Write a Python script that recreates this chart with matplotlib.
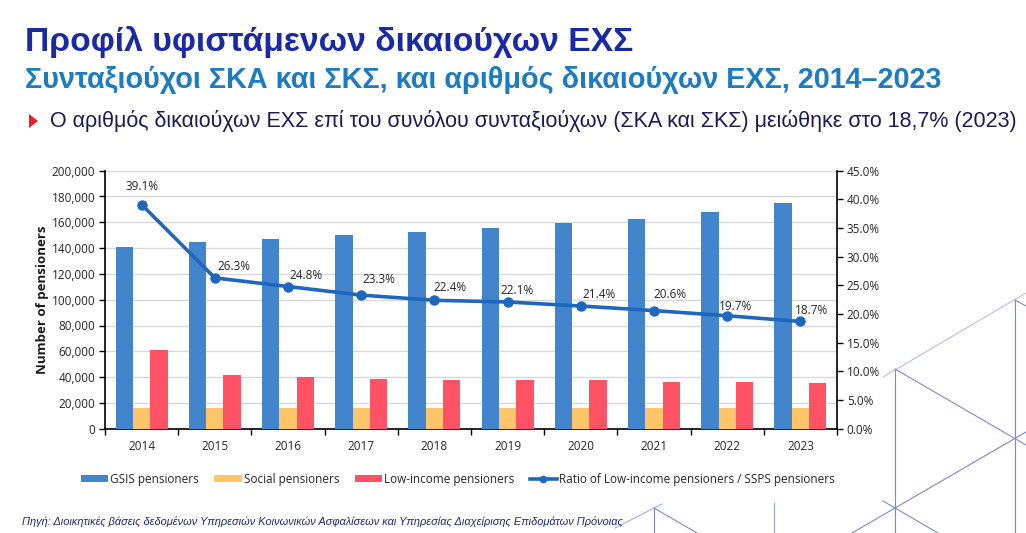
import matplotlib
matplotlib.use("Agg")
import matplotlib.pyplot as plt
from matplotlib.lines import Line2D
from matplotlib.patches import Patch, Polygon
from matplotlib.ticker import FuncFormatter, MultipleLocator, FixedLocator
import numpy as np

# ---------------- data ----------------
years = ["2014", "2015", "2016", "2017", "2018", "2019", "2020", "2021", "2022", "2023"]
gsis = [140700, 144600, 147200, 149800, 152100, 155700, 159600, 162700, 168200, 175200]
social = [15800, 15900, 16000, 16300, 16400, 16400, 16400, 16400, 16400, 16400]
low_income = [60900, 41700, 40200, 38600, 37600, 37600, 37600, 36500, 36000, 35300]
ratio = [39.1, 26.3, 24.8, 23.3, 22.4, 22.1, 21.4, 20.6, 19.7, 18.7]
ratio_labels = ["39.1%", "26.3%", "24.8%", "23.3%", "22.4%", "22.1%", "21.4%", "20.6%", "19.7%", "18.7%"]
series_names = ["GSIS pensioners", "Social pensioners", "Low-income pensioners",
                "Ratio of Low-income pensioners / SSPS pensioners"]

title = "Προφίλ υφιστάμενων δικαιούχων ΕΧΣ"
subtitle = "Συνταξιούχοι ΣΚΑ και ΣΚΣ, και αριθμός δικαιούχων ΕΧΣ, 2014–2023"
bullet = "Ο αριθμός δικαιούχων ΕΧΣ επί του συνόλου συνταξιούχων (ΣΚΑ και ΣΚΣ) μειώθηκε στο 18,7% (2023)"
source = "Πηγή: Διοικητικές βάσεις δεδομένων Υπηρεσιών Κοινωνικών Ασφαλίσεων και Υπηρεσίας Διαχείρισης Επιδομάτων Πρόνοιας"
ylabel = "Number of pensioners"

# ---------------- styling ----------------
W, H = 1026, 533
C_GSIS = "#4285CD"
C_SOC = "#FFC56B"
C_LOW = "#FF5264"
C_LINE = "#1F67BE"
CHART_FONT = ["Open Sans", "DejaVu Sans"]
TITLE_FONT = ["Liberation Sans", "DejaVu Sans"]

plt.rcParams["font.family"] = CHART_FONT

fig = plt.figure(figsize=(W / 100, H / 100), dpi=100)
fig.patch.set_facecolor("white")


def fx(px):
    return px / W


def fy(py):
    return 1 - py / H


# decorative background lines (figure pixel coordinates)
deco = [
    ((883, 377), (1026, 293), "#b9bde6"),
    ((895, 369), (895, 533), "#7f86cf"),
    ((895, 369), (1026, 445), "#7f86cf"),
    ((1015, 300), (1015, 533), "#7f86cf"),
    ((1015, 300), (1026, 306), "#7f86cf"),
    ((1026, 432), (852, 533), "#7f86cf"),
    ((883, 501), (938, 533), "#7f86cf"),
    ((615, 528), (662, 504), "#a9addf"),
    ((654, 508), (654, 533), "#7f86cf"),
    ((654, 508), (697, 533), "#7f86cf"),
    ((774, 503), (774, 533), "#9ca1da"),
]
for (x0, y0), (x1, y1), c in deco:
    fig.add_artist(Line2D([fx(x0), fx(x1)], [fy(y0), fy(y1)], color=c, lw=0.8, zorder=0))

# ---------------- header texts (fitted to target right edge) ----------------
renderer = fig.canvas.get_renderer()


def fitted_text(x0, ybase, x1, s, size, **kw):
    t = fig.text(fx(x0), fy(ybase), s, fontsize=size, ha="left", va="baseline", **kw)
    bb = t.get_window_extent(renderer=renderer)
    t.set_fontsize(size * (x1 - x0) / bb.width)
    return t


fitted_text(25, 51, 632, title, 22, fontweight="bold", color="#1A2AA5", family=TITLE_FONT)
fitted_text(25, 88, 943, subtitle, 18, fontweight="bold", color="#1C7CC2", family=TITLE_FONT)
tri = Polygon([[fx(29), fy(114)], [fx(29), fy(128)], [fx(38), fy(121)]], closed=True,
              transform=fig.transFigure, facecolor="#E3202B", edgecolor="none")
fig.add_artist(tri)
fitted_text(50, 127.5, 1024, bullet, 14, color="#1B1B55", family=TITLE_FONT)
fitted_text(22, 525, 616, source, 7.5, style="italic", color="#1F2A6E", family=TITLE_FONT)

# ---------------- chart ----------------
ax = fig.add_axes([fx(105), fy(428.7), fx(837) - fx(105), fy(170.7) - fy(428.7)])
ax.set_facecolor("white")
x = np.arange(len(years))
bw = 0.236
ax.bar(x - bw, gsis, bw, color=C_GSIS, label=series_names[0], zorder=3)
ax.bar(x, social, bw, color=C_SOC, label=series_names[1], zorder=3)
ax.bar(x + bw, low_income, bw, color=C_LOW, label=series_names[2], zorder=3)

ax.set_xlim(-0.5, len(years) - 0.5)
ax.set_ylim(0, 200000)
ax.yaxis.set_major_locator(MultipleLocator(20000))
ax.yaxis.set_major_formatter(FuncFormatter(lambda v, p: f"{int(v):,}"))
ax.grid(axis="y", color="#D9D9D9", lw=1.0, zorder=0)
ax.set_axisbelow(True)
ax.set_xticks(x)
ax.set_xticklabels(years)
ax.xaxis.set_minor_locator(FixedLocator(np.arange(-0.5, len(years), 1.0)))
ax.tick_params(axis="x", which="major", length=0, pad=8, labelsize=8.5, labelcolor="#262626")
ax.tick_params(axis="x", which="minor", length=4, width=1, color="black", direction="out")
ax.tick_params(axis="y", length=4, width=1, labelsize=8.5, labelcolor="#262626", pad=3)
for s in ["top", "right"]:
    ax.spines[s].set_visible(False)
ax.spines["left"].set_linewidth(1.2)
ax.spines["bottom"].set_linewidth(1.2)
ax.set_ylabel(ylabel, fontsize=9.5, fontweight="bold", color="#1a1a1a", labelpad=2)

ax2 = ax.twinx()
ax2.set_ylim(0, 45)
ax2.yaxis.set_major_locator(MultipleLocator(5))
ax2.yaxis.set_major_formatter(FuncFormatter(lambda v, p: f"{v:.1f}%"))
ax2.tick_params(axis="y", length=4, width=1, labelsize=8.5, labelcolor="#262626", pad=3)
for s in ["top", "left", "bottom"]:
    ax2.spines[s].set_visible(False)
ax2.spines["right"].set_linewidth(1.2)
ax2.plot(x, ratio, color=C_LINE, lw=2.6, marker="o", markersize=6.5, zorder=5,
         label=series_names[3])

label_offsets = [(0, 13), (13.5, 8.5), (13, 8), (13, 11.5), (11.5, 9.5), (7, 8),
                 (13, 8), (11.5, 11.5), (6, 6.5), (8, 8)]
for i, (v, lab) in enumerate(zip(ratio, ratio_labels)):
    dx, dy = label_offsets[i]
    ax2.annotate(lab, (x[i], v), xytext=(dx, dy), textcoords="offset points",
                 ha="center", va="center", fontsize=8.5, color="#262626", zorder=6)

# ---------------- legend ----------------
handles = [Patch(facecolor=C_GSIS), Patch(facecolor=C_SOC), Patch(facecolor=C_LOW),
           Line2D([0], [0], color=C_LINE, lw=2.6, marker="o", markersize=4.5)]
fig.legend(handles, series_names, loc="center", bbox_to_anchor=(fx(458), fy(479)),
           ncol=4, frameon=False, fontsize=8.5, handlelength=2.3, handleheight=0.5,
           handletextpad=0.2, columnspacing=1.3, labelcolor="#262626")

fig.savefig("out.png", dpi=100, facecolor="white")
